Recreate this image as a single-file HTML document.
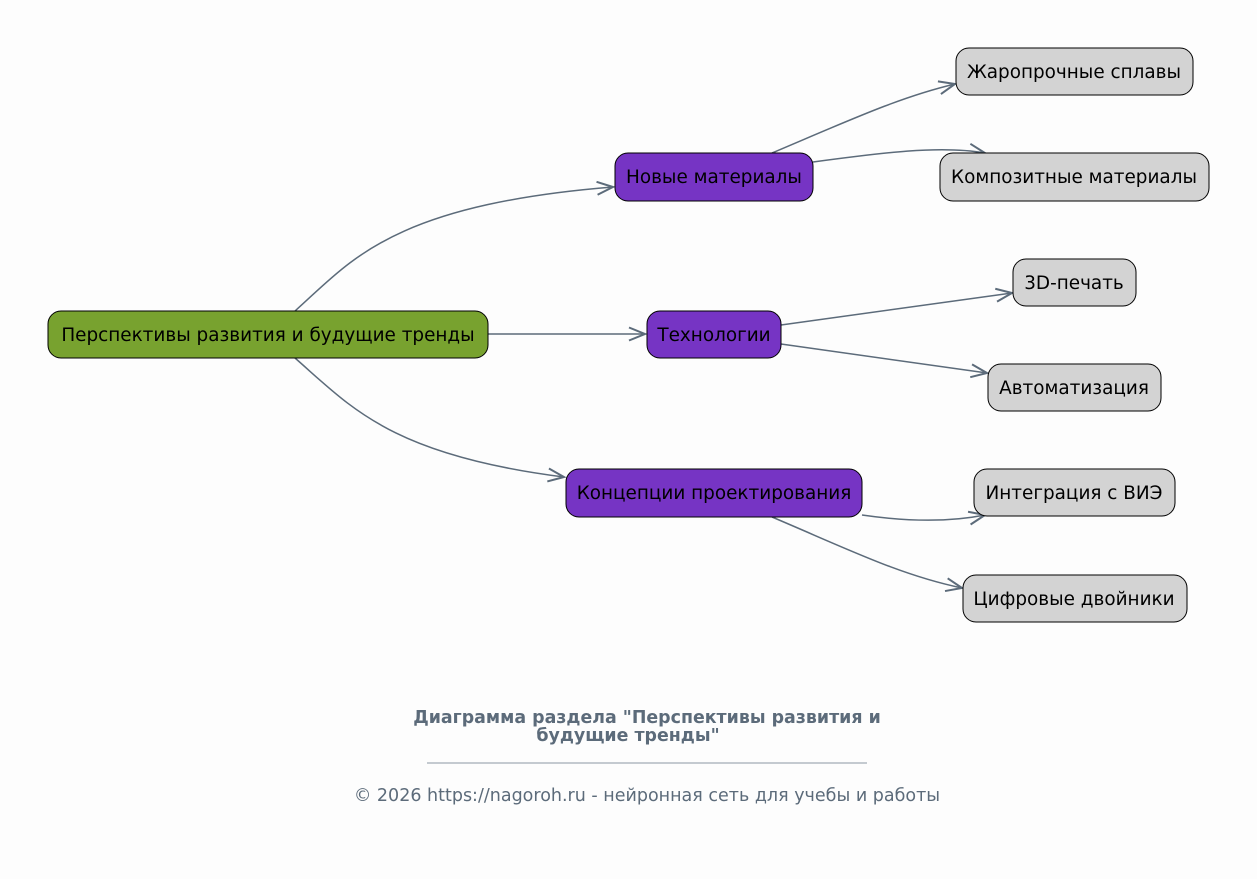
<!DOCTYPE html>
<html><head><meta charset="utf-8"><style>
html,body{margin:0;padding:0;background:#fdfdfd;}
svg{display:block;}
text{font-family:"DejaVu Sans","Liberation Sans",sans-serif;}
</style></head><body>
<svg width="1257" height="879" viewBox="0 0 1257 879" xmlns="http://www.w3.org/2000/svg">
<defs>
<marker id="a" markerWidth="22" markerHeight="16" refX="19" refY="8" orient="auto" markerUnits="userSpaceOnUse">
<path d="M3,1.5 L19,8 L3,14.5" fill="none" stroke="#5c6b7a" stroke-width="2"/>
</marker>
</defs>
<rect width="1257" height="879" fill="#fdfdfd"/>
<g fill="none" stroke="#5c6b7a" stroke-width="1.5" marker-end="url(#a)">
<path d="M295,311 C350,262 390,205 613,187"/>
<path d="M488,334 L645,334"/>
<path d="M295,358 C350,406 390,455 564,477"/>
<path d="M772,153 C850,120 900,97 955,84"/>
<path d="M813,162 C880,153 940,145 985,153"/>
<path d="M781,325 L1012,293"/>
<path d="M781,344 L987,373"/>
<path d="M862,515 C910,522 950,522 985,515"/>
<path d="M772,517 C850,550 900,575 962,588"/>
</g>
<g stroke="#000" stroke-width="1">
<rect x="48" y="311" width="440" height="47" rx="13" fill="#78a22f"/>
<rect x="615" y="153" width="198" height="48" rx="13" fill="#7634c4"/>
<rect x="647" y="311" width="134" height="47" rx="13" fill="#7634c4"/>
<rect x="566" y="469" width="296" height="48" rx="13" fill="#7634c4"/>
<rect x="956" y="48" width="237" height="47" rx="13" fill="#d3d3d3"/>
<rect x="940" y="153" width="269" height="48" rx="13" fill="#d3d3d3"/>
<rect x="1013" y="259" width="123" height="47" rx="13" fill="#d3d3d3"/>
<rect x="988" y="364" width="173" height="47" rx="13" fill="#d3d3d3"/>
<rect x="974" y="469" width="201" height="47" rx="13" fill="#d3d3d3"/>
<rect x="963" y="575" width="224" height="47" rx="13" fill="#d3d3d3"/>
</g>
<g font-size="18.4" text-anchor="middle" fill="#000">
<text x="268" y="341">Перспективы развития и будущие тренды</text>
<text x="714" y="183">Новые материалы</text>
<text x="714" y="341">Технологии</text>
<text x="714" y="499">Концепции проектирования</text>
<text x="1074" y="78">Жаропрочные сплавы</text>
<text x="1074" y="183">Композитные материалы</text>
<text x="1074" y="289">3D-печать</text>
<text x="1074" y="394">Автоматизация</text>
<text x="1074" y="499">Интеграция с ВИЭ</text>
<text x="1074" y="605">Цифровые двойники</text>
</g>
<g fill="#5c6b7a" text-anchor="middle">
<text x="647" y="723" font-size="17.4" font-weight="bold">Диаграмма раздела "Перспективы развития и</text>
<text x="628" y="741" font-size="17.4" font-weight="bold">будущие тренды"</text>
<line x1="427" y1="763" x2="867" y2="763" stroke="#8a96a2" stroke-width="1"/>
<text x="647" y="801" font-size="17.5">© 2026 https://nagoroh.ru - нейронная сеть для учебы и работы</text>
</g>
</svg>
</body></html>
